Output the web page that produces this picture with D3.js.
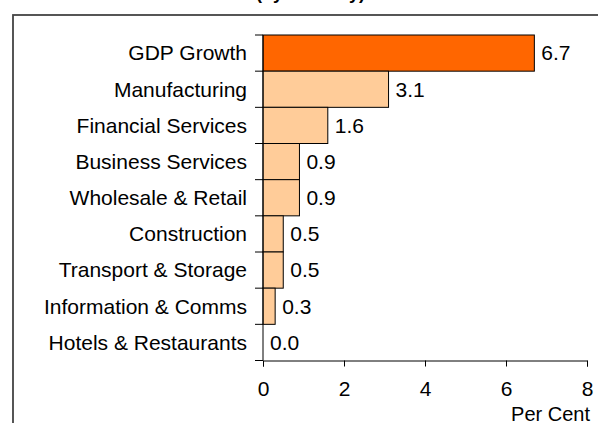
<!DOCTYPE html>
<html>
<head>
<meta charset="utf-8">
<script src="https://cdn.jsdelivr.net/npm/d3@7"></script>
<style>
  body { margin: 0; background: #fff; }
  svg { display: block; font-family: "Liberation Sans", Arial, sans-serif; }
</style>
</head>
<body>
<div id="chart"></div>
<script>
var categories = ["GDP Growth", "Manufacturing", "Financial Services", "Business Services",
  "Wholesale & Retail", "Construction", "Transport & Storage", "Information & Comms",
  "Hotels & Restaurants"];
var values = [6.7, 3.1, 1.6, 0.9, 0.9, 0.5, 0.5, 0.3, 0.0];
var xTicks = [0, 2, 4, 6, 8];

var width = 598, height = 423;
var plotLeft = 263, plotRight = 587, plotTop = 35, plotBottom = 360.5;

var svg = d3.select("#chart").append("svg")
  .attr("width", width)
  .attr("height", height);

// title, mostly cut off at the top
svg.append("text")
  .attr("x", 365).attr("y", -1)
  .attr("text-anchor", "end")
  .attr("font-size", 18).attr("font-weight", "bold")
  .text("Contributions to GDP (by Industry)");

// outer frame
svg.append("rect")
  .attr("x", 13).attr("y", 15)
  .attr("width", 600).attr("height", 430)
  .attr("fill", "none").attr("stroke", "#444").attr("stroke-width", 1.8);

var x = d3.scaleLinear().domain([0, 8]).range([plotLeft, plotRight]);
var y = d3.scaleBand().domain(categories).range([plotTop, plotBottom]).padding(0);

svg.selectAll("rect.bar")
  .data(values)
  .enter().append("rect")
  .attr("class", "bar")
  .attr("x", x(0))
  .attr("y", function(d, i) { return y(categories[i]); })
  .attr("width", function(d) { return x(d) - x(0); })
  .attr("height", y.bandwidth())
  .attr("fill", function(d, i) { return i == 0 ? "#FF6600" : "#FFCC99"; })
  .attr("stroke", "#000").attr("stroke-width", 1);

svg.selectAll("text.val")
  .data(values)
  .enter().append("text")
  .attr("class", "val")
  .attr("x", function(d) { return x(d) + 7; })
  .attr("y", function(d, i) { return y(categories[i]) + y.bandwidth() / 2; })
  .attr("dy", "0.35em")
  .attr("font-size", 21)
  .text(function(d) { return d3.format(".1f")(d); });

// y axis: ticks sit between the bars
var yAxis = svg.append("g").attr("transform", "translate(" + x(0) + ",0)");
yAxis.append("line")
  .attr("y1", plotTop).attr("y2", plotBottom)
  .attr("stroke", "#000");
var edges = categories.map(function(c) { return y(c); }).concat([plotBottom]);
yAxis.selectAll("line.tick")
  .data(edges)
  .enter().append("line")
  .attr("class", "tick")
  .attr("x1", -8).attr("x2", 0)
  .attr("y1", function(d) { return d; }).attr("y2", function(d) { return d; })
  .attr("stroke", "#000");
yAxis.selectAll("text")
  .data(categories)
  .enter().append("text")
  .attr("x", -16)
  .attr("y", function(d) { return y(d) + y.bandwidth() / 2; })
  .attr("dy", "0.35em")
  .attr("text-anchor", "end")
  .attr("font-size", 21)
  .text(function(d) { return d; });

var xAxis = svg.append("g")
  .attr("transform", "translate(0," + plotBottom + ")")
  .call(d3.axisBottom(x).tickValues(xTicks).tickSize(6).tickPadding(15));
xAxis.attr("font-size", 21).attr("font-family", null);
xAxis.select(".domain").attr("stroke", "#000");
xAxis.selectAll(".tick line").attr("stroke", "#000");
xAxis.selectAll(".tick text").attr("fill", "#000");

svg.append("text")
  .attr("x", 590).attr("y", 421)
  .attr("text-anchor", "end")
  .attr("font-size", 20)
  .text("Per Cent");
</script>
</body>
</html>
